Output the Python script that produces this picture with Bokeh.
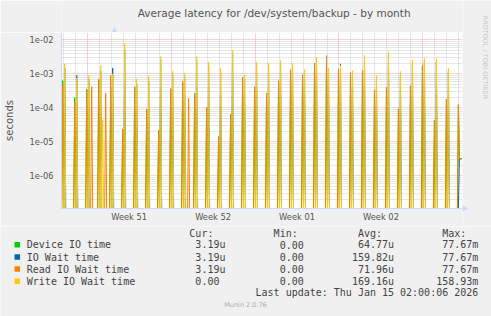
import numpy as np
from bokeh.plotting import figure
from bokeh.layouts import column, row
from bokeh.models import FixedTicker, Range1d
from bokeh.core.properties import value
from bokeh.embed import file_html
from bokeh.resources import INLINE

# ---------------- data ----------------
TITLE = "Average latency for /dev/system/backup - by month"
Y_LABEL = "seconds"
series_names = ["Device IO time", "IO Wait time", "Read IO Wait time", "Write IO Wait time"]
series_colors = ["#00CC00", "#0066B3", "#FF8000", "#FFCC00"]

# nightly backup runs; day index relative to Mon Dec 15 2025 00:00 (start of Week 51)
day_labels = ["Dec 13", "Dec 14", "Dec 15", "Dec 16", "Dec 17", "Dec 18", "Dec 19", "Dec 20",
              "Dec 21", "Dec 22", "Dec 23", "Dec 24", "Dec 25", "Dec 26", "Dec 27", "Dec 28",
              "Dec 29", "Dec 30", "Dec 31", "Jan 01", "Jan 02", "Jan 03", "Jan 04", "Jan 05",
              "Jan 06", "Jan 07", "Jan 08", "Jan 09", "Jan 10", "Jan 11", "Jan 12", "Jan 13",
              "Jan 14"]
day_index = list(range(-2, 31))
read_peak = [5.0e-4, 1.5e-4, 3.0e-4, 7.1e-4, 8.9e-4, 2.4e-5, 4.2e-4, 9.3e-5, 2.2e-5, 3.7e-4,
             6.0e-4, 2.7e-4, 1.0e-4, 1.45e-5, 6.5e-5, 7.9e-4, 4.2e-4, 2.7e-4, 6.3e-4, 1.34e-3,
             9.5e-4, 2.05e-3, 3.45e-3, 1.34e-3, 1.1e-3, 1.25e-3, 3.4e-4, 4.0e-4, 9.3e-5, 4.5e-4,
             1.8e-3, 4.3e-5, 1.8e-4]
device_peak = [6.3e-4, 2.0e-4, 3.5e-4, 6.7e-4, 4.0e-4, 2.2e-5, 4.0e-4, 8.7e-5, 2.2e-5, 3.6e-4,
               5.5e-4, 2.6e-4, 1.0e-4, 1.4e-5, 6.4e-5, 7.5e-4, 4.0e-4, 2.6e-4, 6.0e-4, 1.3e-3,
               9.0e-4, 2.0e-3, 3.3e-3, 1.3e-3, 1.05e-3, 1.2e-3, 3.3e-4, 3.9e-4, 9.0e-5, 4.4e-4,
               1.75e-3, 4.2e-5, 1.75e-4]
iowait_peak = [1.5e-3, 8.9e-4, 7.0e-4, 1.2e-3, 1.47e-3, 5.0e-3, 5.0e-4, 6.0e-4, 2.5e-3, 9.0e-4,
               8.0e-4, 2.5e-3, 1.8e-3, 1.1e-3, 4.0e-3, 7.0e-4, 1.8e-3, 1.6e-3, 2.0e-3, 1.6e-3,
               1.1e-3, 2.5e-3, 1.2e-3, 1.96e-3, 1.0e-3, 2.8e-3, 6.3e-4, 3.5e-3, 9.0e-4, 2.0e-3,
               2.2e-3, 2.2e-3, 1.2e-3]
write_peak = [1.96e-3, 7.6e-4, 8.9e-4, 1.74e-3, 1.0e-3, 7.9e-3, 7.1e-4, 8.3e-4, 3.2e-3, 1.2e-3,
              1.04e-3, 3.2e-3, 2.25e-3, 1.45e-3, 5.0e-3, 9.1e-4, 2.25e-3, 2.05e-3, 2.46e-3, 2.05e-3,
              1.34e-3, 3.1e-3, 1.47e-3, 1.74e-3, 1.25e-3, 3.45e-3, 8.9e-4, 4.4e-3, 1.17e-3, 2.6e-3,
              2.8e-3, 2.8e-3, 1.47e-3]

# isolated extra spikes (hours since Dec 15 00:00)
extra_read_hours = [9, 37, 203]
extra_read_values = [4.2e-4, 2.7e-4, 1.9e-4]
extra_write_hours = [31]
extra_write_values = [4.5e-5]

# last, partial day (Jan 15) up to the last update
tail_hours = [743, 745, 747, 749, 751, 753]
tail_read = [1.25e-4, 3.19e-6, 3.19e-6, 3.19e-6, 3.19e-6, 3.19e-6]
tail_device = [1.2e-4, 3.19e-6, 3.19e-6, 3.19e-6, 3.19e-6, 3.19e-6]
tail_iowait = [0.0, 3.19e-6, 3.19e-6, 3.19e-6, 3.19e-6, 3.19e-6]
tail_write = [0.0, 0.0, 0.0, 0.0, 0.0, 0.0]

week_labels = ["Week 51", "Week 52", "Week 01", "Week 02"]
week_centers = [3.5, 10.5, 17.5, 24.5]
week_starts = [0, 7, 14, 21, 28]
y_ticks = [1e-6, 1e-5, 1e-4, 1e-3, 1e-2]
y_tick_labels = ["1e-06", "1e-05", "1e-04", "1e-03", "1e-02"]

legend_cur = ["3.19u", "3.19u", "3.19u", "0.00"]
legend_min = ["0.00", "0.00", "0.00", "0.00"]
legend_avg = ["64.77u", "159.82u", "71.96u", "169.16u"]
legend_max = ["77.67m", "77.67m", "77.67m", "158.93m"]
legend_headers = ["Cur:", "Min:", "Avg:", "Max:"]
LAST_UPDATE = "Last update: Thu Jan 15 02:00:06 2026"
VERSION = "Munin 2.0.76"
SIDE_TEXT = "RRDTOOL / TOBI OETIKER"

# ---------------- build 2-hour series ----------------
Y_MIN, Y_MAX = 1.09e-7, 1.64e-2
H0, H1 = -53, 753
hours = np.arange(H0, H1 + 1, 2)


def idx(h):
    return (h - H0) // 2


ser = {k: np.zeros(len(hours)) for k in ("device", "iowait", "read", "write")}
for d, r, dv, io, w in zip(day_index, read_peak, device_peak, iowait_peak, write_peak):
    ser["read"][idx(24 * d - 1)] = r
    ser["device"][idx(24 * d - 1)] = dv
    ser["iowait"][idx(24 * d + 3)] = io
    ser["write"][idx(24 * d + 3)] = w
for h, v in zip(extra_read_hours, extra_read_values):
    ser["read"][idx(h)] = v
for h, v in zip(extra_write_hours, extra_write_values):
    ser["write"][idx(h)] = v
for i, h in enumerate(tail_hours):
    ser["read"][idx(h)] = tail_read[i]
    ser["device"][idx(h)] = tail_device[i]
    ser["iowait"][idx(h)] = tail_iowait[i]
    ser["write"][idx(h)] = tail_write[i]

xs = hours / 24.0

BG = "#F0F0F0"
TXT = "#555555"
LEG = "#444444"
AXC = "#CFD6F8"


def blank(w, h, x0, x1, y0, y1):
    f = figure(width=w, height=h, x_range=Range1d(x0, x1), y_range=Range1d(y0, y1),
               output_backend="svg", toolbar_location=None, title=None,
               x_axis_location=None, y_axis_location=None,
               min_border=0, min_border_left=0, min_border_right=0,
               min_border_top=0, min_border_bottom=0,
               background_fill_color=BG, border_fill_color=BG, outline_line_color=None)
    f.grid.visible = False
    return f


# ---------------- title strip (page y 0..32, x 0..462) ----------------
top = blank(462, 32, 0, 462, 32, 0)
top.text(x=[245], y=[12.3], text=[TITLE], text_font=value("DejaVu Sans"),
         text_font_size=value("10.5px"), text_color=TXT, text_align="center",
         text_baseline="middle")
top.patch(x=[58, 64, 61], y=[32, 32, 26], fill_color=AXC, line_color=None)

# ---------------- main chart (page y 32..226, x 0..462) ----------------
p = figure(width=462, height=194,
           x_range=Range1d(-2.143, 31.30), y_range=Range1d(Y_MIN, Y_MAX),
           y_axis_type="log", output_backend="svg", toolbar_location=None, title=None,
           min_border_left=61, min_border_right=0, min_border_top=0, min_border_bottom=18,
           background_fill_color="#FFFFFF", border_fill_color=BG, outline_line_color=None)

day_lines = [d for d in range(-2, 32) if d not in week_starts]
p.xgrid.ticker = FixedTicker(ticks=week_starts, minor_ticks=day_lines)
y_minor = [m * 10.0 ** e for e in range(-7, -1) for m in range(2, 10)]
p.yaxis.ticker = FixedTicker(ticks=y_ticks, minor_ticks=y_minor)
for g in (p.xgrid, p.ygrid):
    g.grid_line_color = "#E06060"
    g.grid_line_alpha = 0.55
    g.grid_line_dash = "1 1"
    g.minor_grid_line_color = "#A0A0A0"
    g.minor_grid_line_alpha = 0.5
    g.minor_grid_line_dash = "1 1"

p.xaxis.ticker = FixedTicker(ticks=week_centers)
p.xaxis.major_label_overrides = {c: l for c, l in zip(week_centers, week_labels)}
p.yaxis.major_label_overrides = {t: l for t, l in zip(y_ticks, y_tick_labels)}
for ax in (p.xaxis[0], p.yaxis[0]):
    ax.axis_line_color = AXC
    ax.major_tick_line_color = None
    ax.minor_tick_line_color = None
    ax.major_tick_out = 0
    ax.major_tick_in = 0
    ax.major_label_text_font = "DejaVu Sans"
    ax.major_label_text_font_size = "8.3px"
    ax.major_label_text_color = TXT
p.xaxis.major_label_standoff = 3
p.yaxis.major_label_standoff = 4
p.yaxis.axis_label = Y_LABEL
p.yaxis.axis_label_text_font = "DejaVu Sans"
p.yaxis.axis_label_text_font_size = "10px"
p.yaxis.axis_label_text_font_style = "normal"
p.yaxis.axis_label_text_color = TXT
p.yaxis.axis_label_standoff = 12

for key, col in zip(("device", "iowait", "read", "write"), series_colors):
    ys = np.where(ser[key] > 0, ser[key], Y_MIN)
    p.line(xs, ys, line_color=col, line_width=1)

# ---------------- right strip (page y 0..226, x 462..491) ----------------
side = blank(29, 226, 462, 491, 226, 0)
side.text(x=[484], y=[15], text=[SIDE_TEXT], text_font=value("DejaVu Sans"),
          text_font_size=value("6.5px"), text_color="#C8C8C8", text_align="left",
          text_baseline="middle", angle=-np.pi / 2)
side.patch(x=[462, 462, 468], y=[205, 211, 208], fill_color=AXC, line_color=None)

# ---------------- legend block (page y 226..316, x 0..491) ----------------
leg = blank(491, 90, 0, 491, 316, 226)
MONO = value("DejaVu Sans Mono")
FS = value("10px")
CW = 6.02
X0 = 26.3
row_y = [244.3, 256.5, 268.6, 280.7]
col_starts = [27, 41, 55, 69]
col_ends = [33, 47, 61, 75]

leg.text(x=[X0 + c * CW for c in col_starts], y=[232.6] * 4, text=legend_headers,
         text_font=MONO, text_font_size=FS, text_color=LEG, text_align="left",
         text_baseline="middle")
leg.rect(x=[16.8] * 4, y=row_y, width=5.5, height=5.5, fill_color=series_colors,
         line_color=None)
leg.text(x=[X0] * 4, y=row_y, text=series_names, text_font=MONO, text_font_size=FS,
         text_color=LEG, text_align="left", text_baseline="middle")
vx, vy, vt = [], [], []
for vals, e in zip((legend_cur, legend_min, legend_avg, legend_max), col_ends):
    for i, s in enumerate(vals):
        vx.append(X0 + e * CW - (0 if s[-1].isalpha() else CW))
        vy.append(row_y[i])
        vt.append(s)
leg.text(x=vx, y=vy, text=vt, text_font=MONO, text_font_size=FS, text_color=LEG,
         text_align="right", text_baseline="middle")
leg.text(x=[X0 + 75 * CW], y=[292.3], text=[LAST_UPDATE], text_font=MONO, text_font_size=FS,
         text_color=LEG, text_align="right", text_baseline="middle")
leg.text(x=[245], y=[304], text=[VERSION], text_font=value("DejaVu Sans"),
         text_font_size=value("6.5px"), text_color="#AAAAAA", text_align="center",
         text_baseline="middle")

layout = column(row(column(top, p, spacing=0), side, spacing=0), leg, spacing=0)
open("out.html", "w").write(file_html(layout, INLINE))
